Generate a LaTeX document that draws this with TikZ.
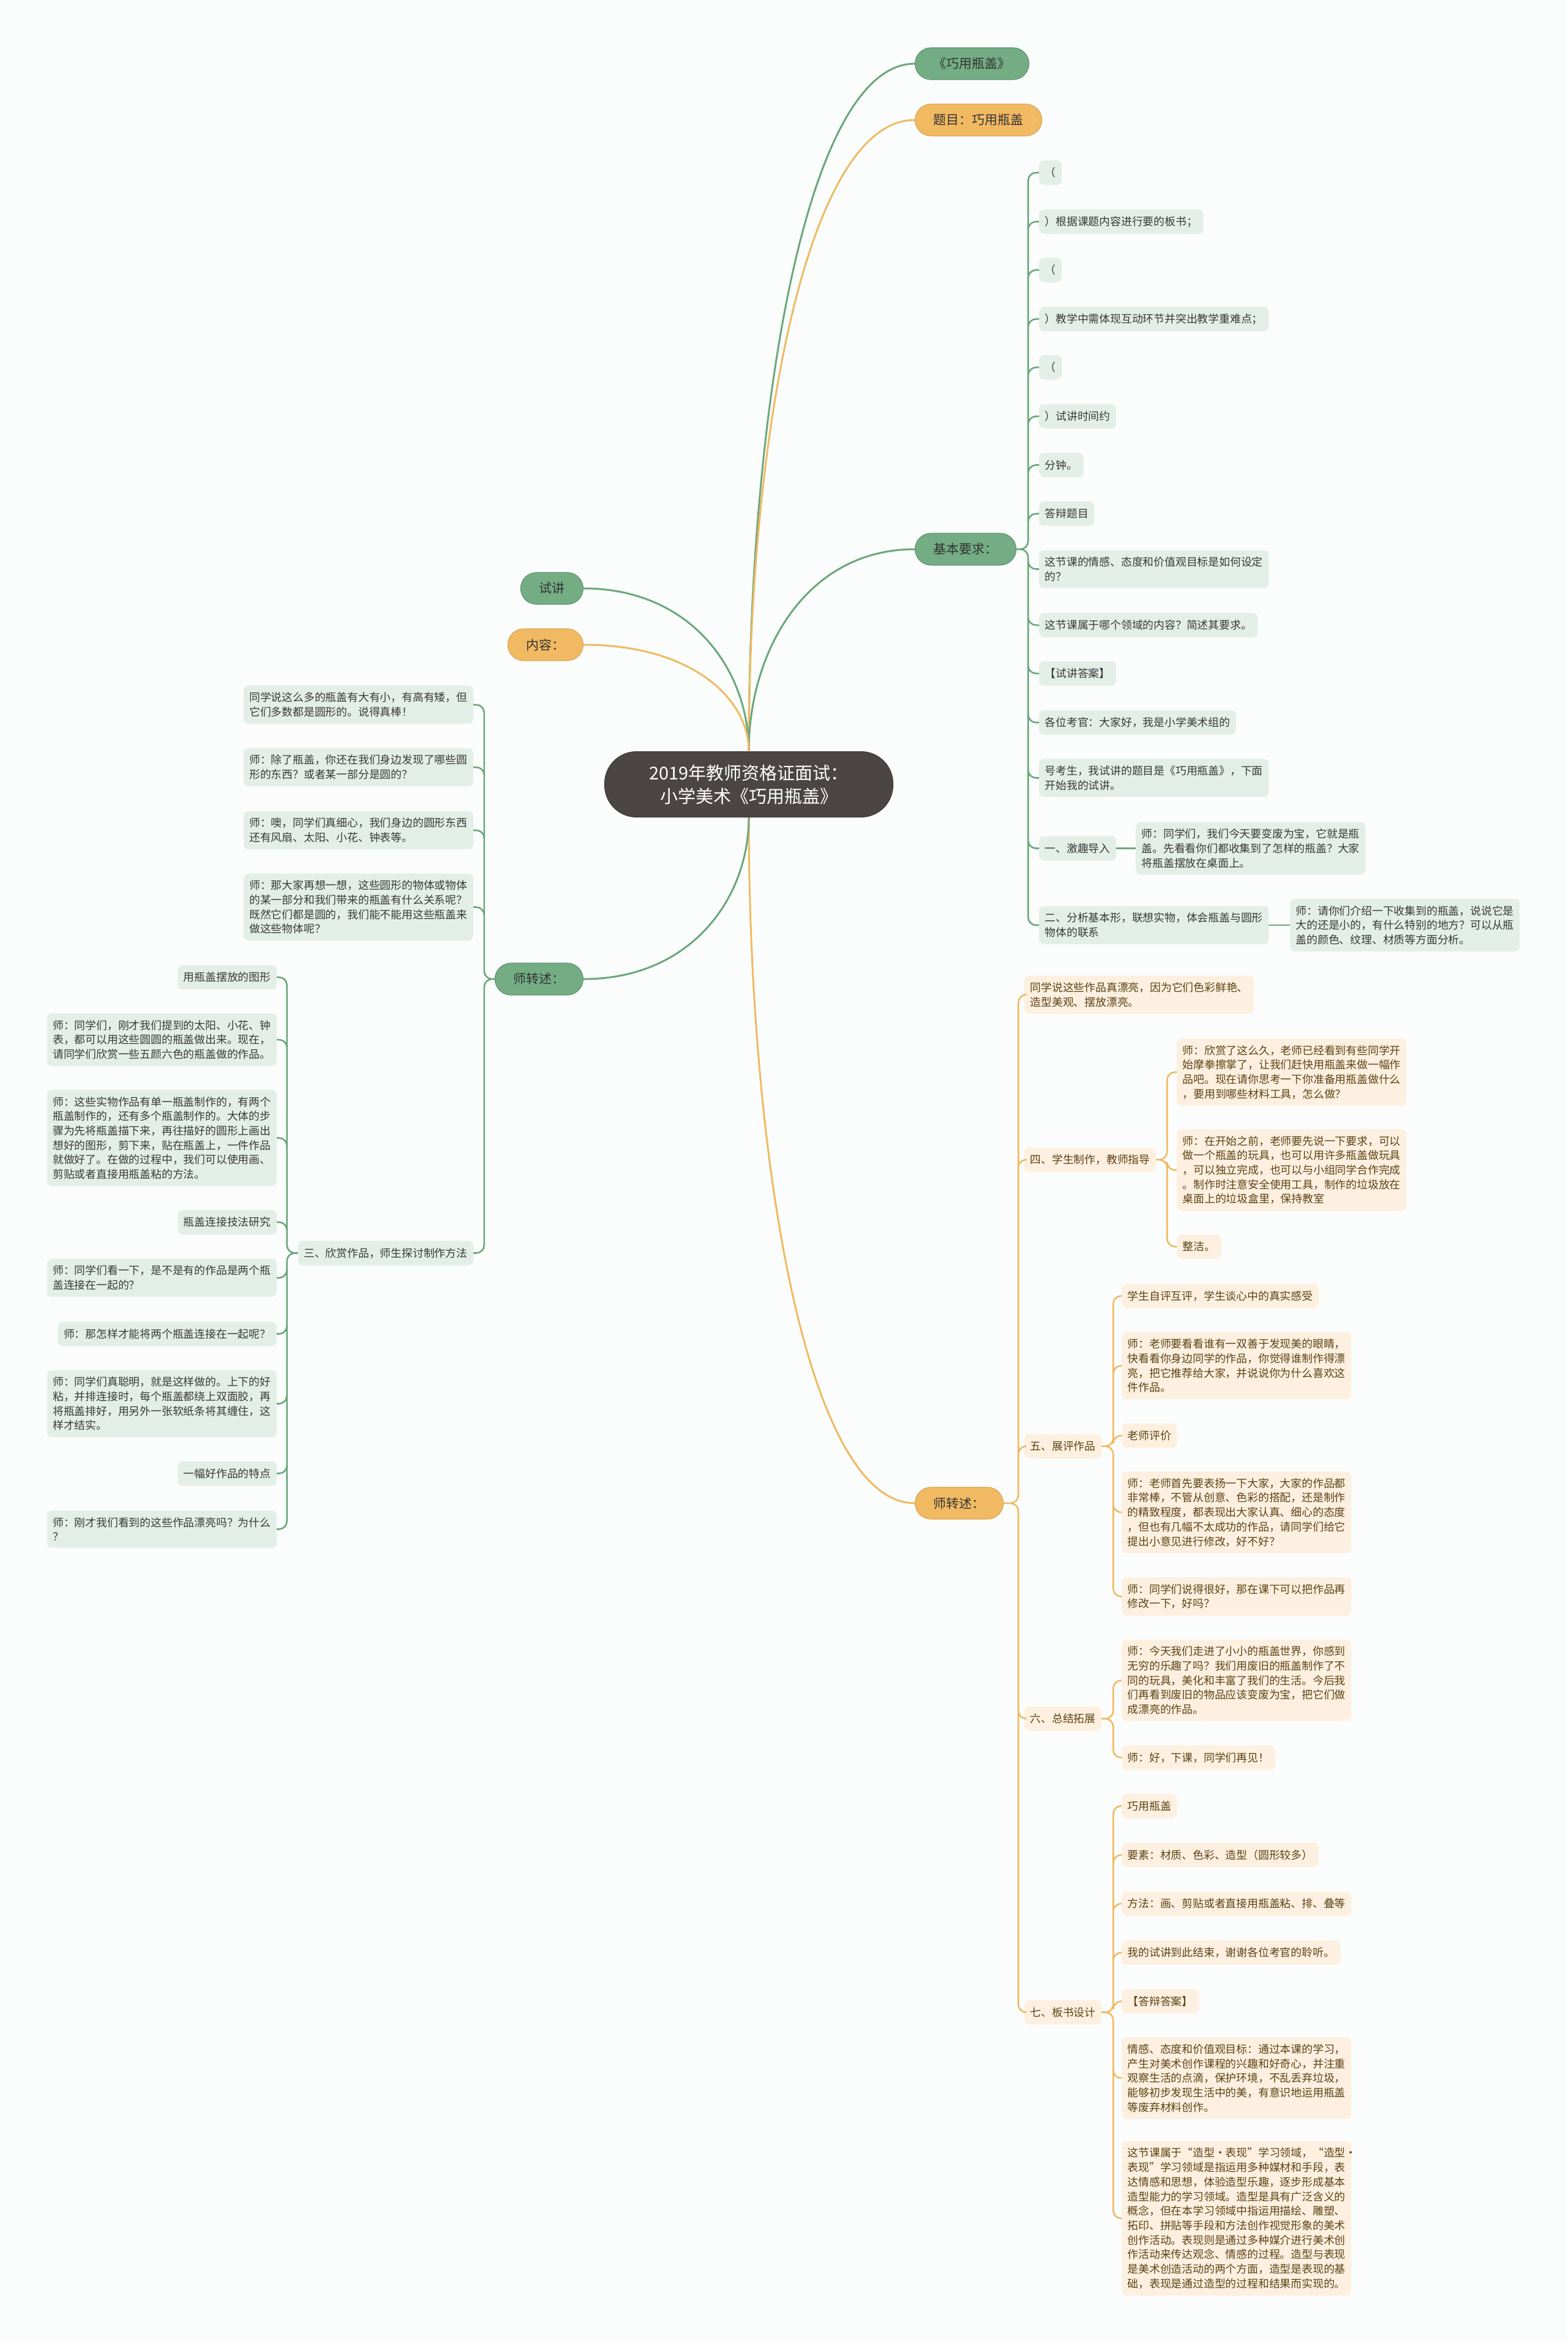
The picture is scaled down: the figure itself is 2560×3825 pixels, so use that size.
\documentclass[tikz,border=0pt]{standalone}
\usepackage{fontspec}
\setmainfont{Noto Sans CJK SC}
\usepackage{xcolor}
\usepackage{tikz}
\usetikzlibrary{positioning, calc}

\definecolor{pagebg}{HTML}{FAFDFC}
\definecolor{hubgray}{HTML}{4B4545}
\definecolor{topgreen}{HTML}{74AD84}
\definecolor{toporange}{HTML}{F1B962}
\definecolor{leafgreen}{HTML}{E3EFE6}
\definecolor{leaforange}{HTML}{FDF0E0}
\definecolor{leafbrown}{HTML}{5C4214}
\definecolor{linkgreen}{HTML}{6CA77C}
\definecolor{linkorange}{HTML}{F0BA62}

\begin{document}
\begin{tikzpicture}[x=1pt, y=-1pt,
    hub/.style={
      rectangle, rounded corners=52pt, fill=hubgray, draw=hubgray!80!black,
      line width=1pt, text=white, font=\fontsize{29}{38}\selectfont,
      align=center, minimum width=471pt, minimum height=107pt
    },
    topicg/.style={
      rectangle, rounded corners=26pt, fill=topgreen, draw=topgreen!85!black,
      line width=1.2pt, text=black!80, font=\fontsize{21}{26}\selectfont,
      inner xsep=30pt, minimum height=52pt
    },
    topico/.style={topicg, fill=toporange, draw=toporange!90!black},
    leafg/.style={
      rectangle, rounded corners=8pt, fill=leafgreen, text=black!78,
      font=\fontsize{17.8}{23.7}\selectfont, align=left,
      inner xsep=9.5pt, inner ysep=11pt, minimum height=40pt
    },
    leafo/.style={leafg, fill=leaforange, text=leafbrown},
    wide/.style={text width=356pt},
    glink/.style={draw=linkgreen, line width=3pt},
    olink/.style={draw=linkorange, line width=3pt},
    fork/.style={line width=2.6pt, rounded corners=13pt},
    branch/.style={to path={let \p1=(\tikztostart), \p2=(\tikztotarget) in
      .. controls (\x1,{0.5*(\y1+\y2)}) and ({\x1+0.35*(\x2-\x1)},\y2) .. (\tikztotarget)}},
  ]

  \useasboundingbox (0,0) rectangle (2560,3825);
  \fill[pagebg] (0,0) rectangle (2560,3825);

  % centre and main topics
  \node[hub] (root) at (1223,1281) {2019年教师资格证面试：\\小学美术《巧用瓶盖》};

  \node[topicg, anchor=west] (qygd) at (1494,104) {《巧用瓶盖》};
  \node[topico, anchor=west] (tm) at (1494,196) {题目：巧用瓶盖};
  \node[topicg, anchor=west] (jbyq) at (1494,897) {基本要求：};
  \node[topico, anchor=west] (szsR) at (1494,2455) {师转述：};

  \node[topicg, anchor=east] (sj) at (953,961) {试讲};
  \node[topico, anchor=east] (nr) at (953,1053) {内容：};
  \node[topicg, anchor=east] (szsL) at (953,1599) {师转述：};

  % 基本要求
  \node[leafg, anchor=west] (jb1) at (1697,282) {（};
  \node[leafg, anchor=west] (jb2) at (1697,362) {）根据课题内容进行要的板书；};
  \node[leafg, anchor=west] (jb3) at (1697,441) {（};
  \node[leafg, anchor=west] (jb4) at (1697,521) {）教学中需体现互动环节并突出教学重难点；};
  \node[leafg, anchor=west] (jb5) at (1697,600) {（};
  \node[leafg, anchor=west] (jb6) at (1697,680) {）试讲时间约};
  \node[leafg, anchor=west] (jb7) at (1697,759.5) {分钟。};
  \node[leafg, anchor=west] (jb8) at (1697,839) {答辩题目};
  \node[leafg, wide, anchor=west] (jb9) at (1697,929.5) {这节课的情感、态度和价值观目标是如何设定\\的？};
  \node[leafg, anchor=west] (jb10) at (1697,1021) {这节课属于哪个领域的内容？简述其要求。};
  \node[leafg, anchor=west] (jb11) at (1697,1100) {【试讲答案】};
  \node[leafg, anchor=west] (jb12) at (1697,1180) {各位考官：大家好，我是小学美术组的};
  \node[leafg, wide, anchor=west] (jb13) at (1697,1270.5) {号考生，我试讲的题目是《巧用瓶盖》，下面\\开始我的试讲。};
  \node[leafg, anchor=west] (jb14) at (1697,1385.5) {一、激趣导入};
  \node[leafg, wide, anchor=west] (jb15) at (1697,1511) {二、分析基本形，联想实物，体会瓶盖与圆形\\物体的联系};
  \node[leafg, wide, anchor=west] (jb14a) at (1855,1385.5) {师：同学们，我们今天要变废为宝，它就是瓶\\盖。先看看你们都收集到了怎样的瓶盖？大家\\将瓶盖摆放在桌面上。};
  \node[leafg, wide, anchor=west] (jb15a) at (2107,1511) {师：请你们介绍一下收集到的瓶盖，说说它是\\大的还是小的，有什么特别的地方？可以从瓶\\盖的颜色、纹理、材质等方面分析。};

  % 师转述 (left)
  \node[leafg, wide, anchor=east] (L1) at (773,1151) {同学说这么多的瓶盖有大有小，有高有矮，但\\它们多数都是圆形的。说得真棒！};
  \node[leafg, wide, anchor=east] (L2) at (773,1253) {师：除了瓶盖，你还在我们身边发现了哪些圆\\形的东西？或者某一部分是圆的？};
  \node[leafg, wide, anchor=east] (L3) at (773,1356) {师：噢，同学们真细心，我们身边的圆形东西\\还有风扇、太阳、小花、钟表等。};
  \node[leafg, wide, anchor=east] (L4) at (773,1481.5) {师：那大家再想一想，这些圆形的物体或物体\\的某一部分和我们带来的瓶盖有什么关系呢？\\既然它们都是圆的，我们能不能用这些瓶盖来\\做这些物体呢？};
  \node[leafg, anchor=east] (L5) at (773,2046.5) {三、欣赏作品，师生探讨制作方法};

  \node[leafg, anchor=east] (s1) at (452,1596) {用瓶盖摆放的图形};
  \node[leafg, wide, anchor=east] (s2) at (452,1698) {师：同学们，刚才我们提到的太阳、小花、钟\\表，都可以用这些圆圆的瓶盖做出来。现在，\\请同学们欣赏一些五颜六色的瓶盖做的作品。};
  \node[leafg, wide, anchor=east] (s3) at (452,1858.5) {师：这些实物作品有单一瓶盖制作的，有两个\\瓶盖制作的，还有多个瓶盖制作的。大体的步\\骤为先将瓶盖描下来，再往描好的圆形上画出\\想好的图形，剪下来，贴在瓶盖上，一件作品\\就做好了。在做的过程中，我们可以使用画、\\剪贴或者直接用瓶盖粘的方法。};
  \node[leafg, anchor=east] (s4) at (452,1996) {瓶盖连接技法研究};
  \node[leafg, wide, anchor=east] (s5) at (452,2087) {师：同学们看一下，是不是有的作品是两个瓶\\盖连接在一起的？};
  \node[leafg, anchor=east] (s6) at (452,2178.5) {师：那怎样才能将两个瓶盖连接在一起呢？};
  \node[leafg, wide, anchor=east] (s7) at (452,2292.5) {师：同学们真聪明，就是这样做的。上下的好\\粘，并排连接时，每个瓶盖都绕上双面胶，再\\将瓶盖排好，用另外一张软纸条将其缠住，这\\样才结实。};
  \node[leafg, anchor=east] (s8) at (452,2406.5) {一幅好作品的特点};
  \node[leafg, wide, anchor=east] (s9) at (452,2497.5) {师：刚才我们看到的这些作品漂亮吗？为什么\\？};

  % 师转述 (right)
  \node[leafo, wide, anchor=west] (r1) at (1673,1624.5) {同学说这些作品真漂亮，因为它们色彩鲜艳、\\造型美观、摆放漂亮。};
  \node[leafo, anchor=west] (r4) at (1673,1894) {四、学生制作，教师指导};
  \node[leafo, anchor=west] (r5) at (1673,2362) {五、展评作品};
  \node[leafo, anchor=west] (r6) at (1673,2807) {六、总结拓展};
  \node[leafo, anchor=west] (r7) at (1673,3286.5) {七、板书设计};

  \node[leafo, wide, anchor=west] (r4a) at (1922,1751) {师：欣赏了这么久，老师已经看到有些同学开\\始摩拳擦掌了，让我们赶快用瓶盖来做一幅作\\品吧。现在请你思考一下你准备用瓶盖做什么\\，要用到哪些材料工具，怎么做？};
  \node[leafo, wide, anchor=west] (r4b) at (1922,1911) {师：在开始之前，老师要先说一下要求，可以\\做一个瓶盖的玩具，也可以用许多瓶盖做玩具\\，可以独立完成，也可以与小组同学合作完成\\。制作时注意安全使用工具，制作的垃圾放在\\桌面上的垃圾盒里，保持教室};
  \node[leafo, anchor=west] (r4c) at (1922,2036) {整洁。};

  \node[leafo, anchor=west] (r5a) at (1832,2116.5) {学生自评互评，学生谈心中的真实感受};
  \node[leafo, wide, anchor=west] (r5b) at (1832,2230.5) {师：老师要看看谁有一双善于发现美的眼睛，\\快看看你身边同学的作品，你觉得谁制作得漂\\亮，把它推荐给大家，并说说你为什么喜欢这\\件作品。};
  \node[leafo, anchor=west] (r5c) at (1832,2344.5) {老师评价};
  \node[leafo, wide, anchor=west] (r5d) at (1832,2470) {师：老师首先要表扬一下大家，大家的作品都\\非常棒，不管从创意、色彩的搭配，还是制作\\的精致程度，都表现出大家认真、细心的态度\\，但也有几幅不太成功的作品，请同学们给它\\提出小意见进行修改，好不好？};
  \node[leafo, wide, anchor=west] (r5e) at (1832,2607.5) {师：同学们说得很好，那在课下可以把作品再\\修改一下，好吗？};

  \node[leafo, wide, anchor=west] (r6a) at (1832,2744.5) {师：今天我们走进了小小的瓶盖世界，你感到\\无穷的乐趣了吗？我们用废旧的瓶盖制作了不\\同的玩具，美化和丰富了我们的生活。今后我\\们再看到废旧的物品应该变废为宝，把它们做\\成漂亮的作品。};
  \node[leafo, anchor=west] (r6b) at (1832,2870.5) {师：好，下课，同学们再见！};

  \node[leafo, anchor=west] (r7a) at (1832,2949.5) {巧用瓶盖};
  \node[leafo, anchor=west] (r7b) at (1832,3029.5) {要素：材质、色彩、造型（圆形较多）};
  \node[leafo, anchor=west] (r7c) at (1832,3109) {方法：画、剪贴或者直接用瓶盖粘、排、叠等};
  \node[leafo, anchor=west] (r7d) at (1832,3189) {我的试讲到此结束，谢谢各位考官的聆听。};
  \node[leafo, anchor=west] (r7e) at (1832,3268.5) {【答辩答案】};
  \node[leafo, wide, anchor=west] (r7f) at (1832,3394) {情感、态度和价值观目标：通过本课的学习，\\产生对美术创作课程的兴趣和好奇心，并注重\\观察生活的点滴，保护环境，不乱丢弃垃圾，\\能够初步发现生活中的美，有意识地运用瓶盖\\等废弃材料创作。};
  \node[leafo, wide, anchor=west] (r7g) at (1832,3623) {这节课属于“造型·表现”学习领域，“造型·\\表现”学习领域是指运用多种媒材和手段，表\\达情感和思想，体验造型乐趣，逐步形成基本\\造型能力的学习领域。造型是具有广泛含义的\\概念，但在本学习领域中指运用描绘、雕塑、\\拓印、拼贴等手段和方法创作视觉形象的美术\\创作活动。表现则是通过多种媒介进行美术创\\作活动来传达观念、情感的过程。造型与表现\\是美术创造活动的两个方面，造型是表现的基\\础，表现是通过造型的过程和结果而实现的。};

  % main branches
  \draw[glink] (root.north) to[branch] (qygd.west);
  \draw[olink] (root.north) to[branch] (tm.west);
  \draw[glink] (root.north) to[branch] (jbyq.west);
  \draw[olink] (root.south) to[branch] (szsR.west);
  \draw[glink] (root.north) to[branch] (sj.east);
  \draw[olink] (root.north) to[branch] (nr.east);
  \draw[glink] (root.south) to[branch] (szsL.east);

  % forks
  \draw[glink, fork] (jbyq.east) -- ++(19,0) |- (jb1.west)
    (jbyq.east) -- ++(19,0) |- (jb2.west)
    (jbyq.east) -- ++(19,0) |- (jb3.west)
    (jbyq.east) -- ++(19,0) |- (jb4.west)
    (jbyq.east) -- ++(19,0) |- (jb5.west)
    (jbyq.east) -- ++(19,0) |- (jb6.west)
    (jbyq.east) -- ++(19,0) |- (jb7.west)
    (jbyq.east) -- ++(19,0) |- (jb8.west)
    (jbyq.east) -- ++(19,0) |- (jb9.west)
    (jbyq.east) -- ++(19,0) |- (jb10.west)
    (jbyq.east) -- ++(19,0) |- (jb11.west)
    (jbyq.east) -- ++(19,0) |- (jb12.west)
    (jbyq.east) -- ++(19,0) |- (jb13.west)
    (jbyq.east) -- ++(19,0) |- (jb14.west)
    (jbyq.east) -- ++(19,0) |- (jb15.west);
  \draw[glink, fork] (jb14.east) -- (jb14a.west);
  \draw[glink, fork] (jb15.east) -- (jb15a.west);

  \draw[glink, fork] (szsL.west) -- ++(-17,0) |- (L1.east)
    (szsL.west) -- ++(-17,0) |- (L2.east)
    (szsL.west) -- ++(-17,0) |- (L3.east)
    (szsL.west) -- ++(-17,0) |- (L4.east)
    (szsL.west) -- ++(-17,0) |- (L5.east);

  \draw[glink, fork] (L5.west) -- ++(-18,0) |- (s1.east)
    (L5.west) -- ++(-18,0) |- (s2.east)
    (L5.west) -- ++(-18,0) |- (s3.east)
    (L5.west) -- ++(-18,0) |- (s4.east)
    (L5.west) -- ++(-18,0) |- (s5.east)
    (L5.west) -- ++(-18,0) |- (s6.east)
    (L5.west) -- ++(-18,0) |- (s7.east)
    (L5.west) -- ++(-18,0) |- (s8.east)
    (L5.west) -- ++(-18,0) |- (s9.east);

  \draw[olink, fork] (szsR.east) -- ++(24,0) |- (r1.west)
    (szsR.east) -- ++(24,0) |- (r4.west)
    (szsR.east) -- ++(24,0) |- (r5.west)
    (szsR.east) -- ++(24,0) |- (r6.west)
    (szsR.east) -- ++(24,0) |- (r7.west);

  \draw[olink, fork] (r4.east) -- ++(18,0) |- (r4a.west)
    (r4.east) -- ++(18,0) |- (r4b.west)
    (r4.east) -- ++(18,0) |- (r4c.west);

  \draw[olink, fork] (r5.east) -- ++(19,0) |- (r5a.west)
    (r5.east) -- ++(19,0) |- (r5b.west)
    (r5.east) -- ++(19,0) |- (r5c.west)
    (r5.east) -- ++(19,0) |- (r5d.west)
    (r5.east) -- ++(19,0) |- (r5e.west);

  \draw[olink, fork] (r6.east) -- ++(19,0) |- (r6a.west)
    (r6.east) -- ++(19,0) |- (r6b.west);

  \draw[olink, fork] (r7.east) -- ++(19,0) |- (r7a.west)
    (r7.east) -- ++(19,0) |- (r7b.west)
    (r7.east) -- ++(19,0) |- (r7c.west)
    (r7.east) -- ++(19,0) |- (r7d.west)
    (r7.east) -- ++(19,0) |- (r7e.west)
    (r7.east) -- ++(19,0) |- (r7f.west)
    (r7.east) -- ++(19,0) |- (r7g.west);
\end{tikzpicture}
\end{document}
